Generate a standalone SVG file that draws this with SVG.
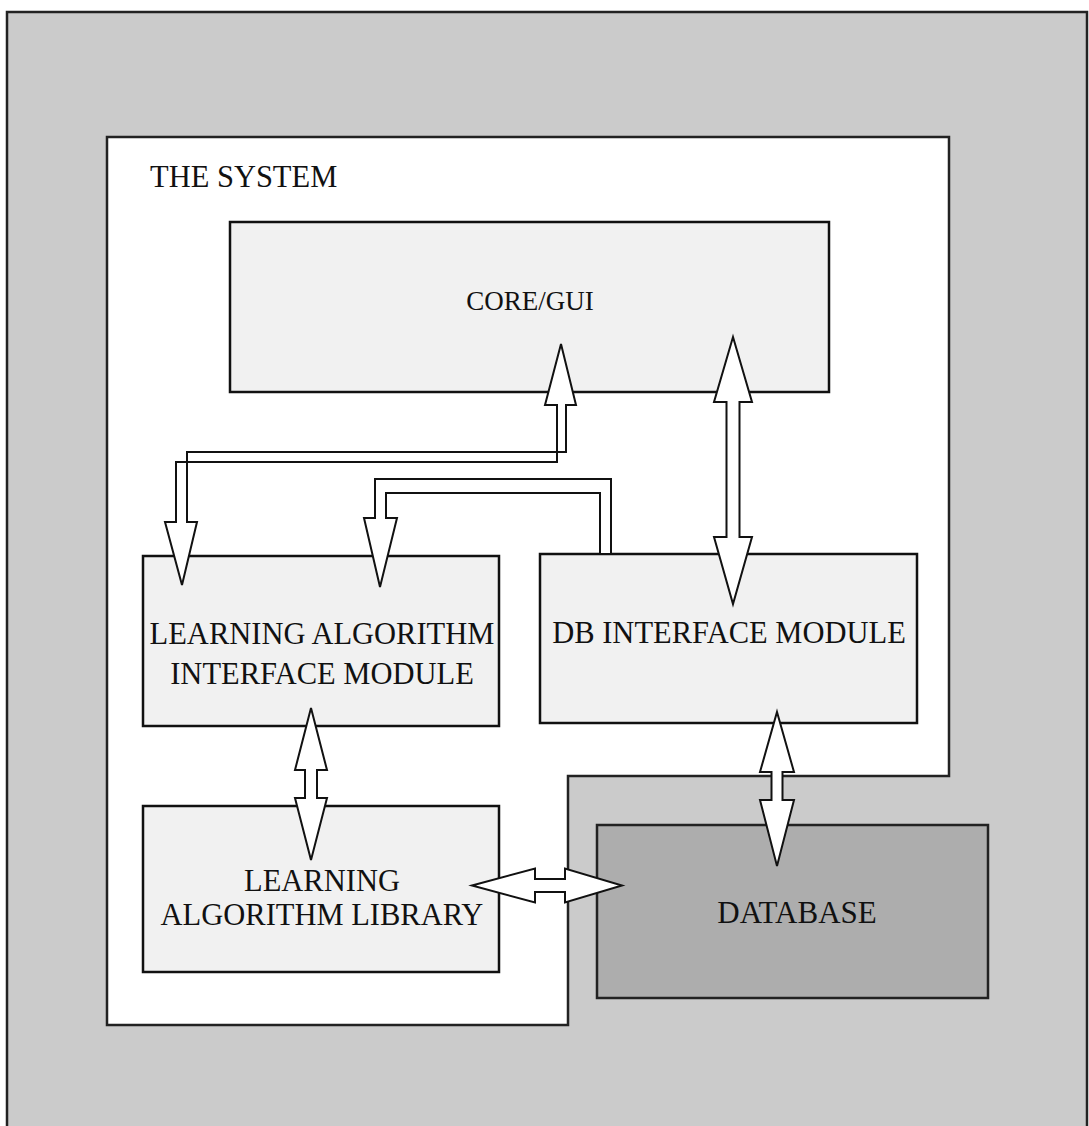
<svg xmlns="http://www.w3.org/2000/svg" width="1089" height="1126" viewBox="0 0 1089 1126">
<style>
.lbl{font-family:"Liberation Serif","Times New Roman",serif;font-size:30.5px;fill:#111;text-anchor:middle}
.box{fill:#f1f1f1;stroke:#111;stroke-width:2.5}
.arr{fill:#fff;stroke:#111;stroke-width:2;stroke-linejoin:miter}
</style>
<rect width="1089" height="1126" fill="#fff"/>
<g id="frame">
<rect x="7" y="12" width="1080" height="1130" fill="#cbcbcb" stroke="#222" stroke-width="2.5"/>
</g>
<g id="system">
<path d="M107,137 H949 V776 H568 V1025 H107 Z" fill="#fff" stroke="#222" stroke-width="2.5"/>
<text class="lbl" x="150" y="187" style="text-anchor:start">THE SYSTEM</text>
</g>
<g id="core-gui">
<rect class="box" x="230" y="222" width="599" height="170"/>
<text class="lbl" x="530" y="310" style="font-size:27px">CORE/GUI</text>
</g>
<g id="la-interface">
<rect class="box" x="143" y="556" width="356" height="170"/>
<text class="lbl" x="322" y="644">LEARNING ALGORITHM</text>
<text class="lbl" x="322" y="684">INTERFACE MODULE</text>
</g>
<g id="db-interface">
<rect class="box" x="540" y="554" width="377" height="169"/>
<text class="lbl" x="729" y="643">DB INTERFACE MODULE</text>
</g>
<g id="la-library">
<rect class="box" x="143" y="806" width="356" height="166"/>
<text class="lbl" x="322" y="891">LEARNING</text>
<text class="lbl" x="322" y="925">ALGORITHM LIBRARY</text>
</g>
<g id="database">
<rect x="597" y="825" width="391" height="173" fill="#adadad" stroke="#222" stroke-width="2.5"/>
<text class="lbl" x="797" y="923" style="font-size:31px">DATABASE</text>
</g>
<g id="connectors">
<path class="arr" d="M561,344 L576,405 L566,405 L566,452 L187,452 L187,522 L197,522 L182,585 L165,522 L176,522 L176,462 L557,462 L557,405 L545,405 Z"/>
<path class="arr" d="M611,554 L611,479 L375,479 L375,518 L364,518 L380,587 L397,518 L386,518 L386,493 L600,493 L600,554 Z"/>
<path class="arr" d="M733,337 L752,402 L739.5,402 L739.5,537 L752,537 L733,604 L714,537 L726.5,537 L726.5,402 L714,402 Z"/>
<path class="arr" d="M311,708 L327,770 L317,770 L317,798 L327,798 L311,860 L295,798 L305,798 L305,770 L295,770 Z"/>
<path class="arr" d="M777,712 L794,772 L782.5,772 L782.5,800 L794,800 L777,866 L760,800 L771.5,800 L771.5,772 L760,772 Z"/>
<path class="arr" d="M472,885.5 L535,868.5 L535,879 L565,879 L565,868.5 L622,885.5 L565,902.5 L565,892 L535,892 L535,902.5 Z"/>
</g>
</svg>
